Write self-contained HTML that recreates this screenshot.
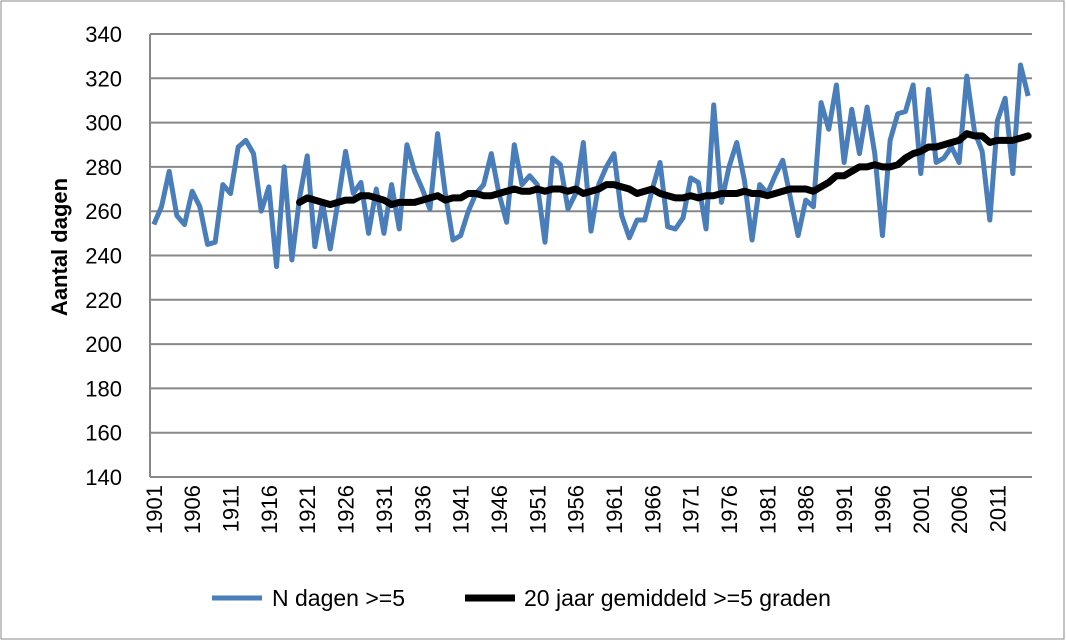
<!DOCTYPE html>
<html><head><meta charset="utf-8"><style>
body{margin:0;background:#fff;}
svg{display:block;font-family:"Liberation Sans",sans-serif;}
</style></head><body>
<svg id="c" width="1066" height="641">
<rect x="1" y="1" width="1063" height="638" fill="#fff" stroke="#888"/>
<g id="grid"></g><g id="ylab"></g><g id="xlab"></g><g id="series"></g>
<text transform="translate(67,247) rotate(-90)" text-anchor="middle" font-size="22" font-weight="bold">Aantal dagen</text>
<g>
<line x1="212" y1="598" x2="262" y2="598" stroke="#4a7ebb" stroke-width="5"/>
<text x="272" y="606" font-size="23">N dagen &gt;=5</text>
<line x1="465" y1="598" x2="515" y2="598" stroke="#000" stroke-width="7"/>
<text x="524" y="606" font-size="23">20 jaar gemiddeld &gt;=5 graden</text>
</g>
</svg>
<script>
const startYear = 1901;
const nDagen = [254,262,278,258,254,269,262,245,246,272,268,289,292,286,260,271,235,280,238,266,285,244,264,243,264,287,268,273,250,270,250,272,252,290,278,270,261,295,268,247,249,260,268,272,286,268,255,290,272,276,272,246,284,281,261,268,291,251,272,280,286,258,248,256,256,270,282,253,252,257,275,273,252,308,264,280,291,274,247,272,268,276,283,266,249,265,262,309,297,317,282,306,286,307,286,249,292,304,305,317,277,315,282,284,289,282,321,296,287,256,301,311,277,326,312];
const avgStart = 1920;
const avg20 = [264,266,265,264,263,264,265,265,267,267,266,265,263,264,264,264,265,266,267,265,266,266,268,268,267,267,268,269,270,269,269,270,269,270,270,269,270,268,269,270,272,272,271,270,268,269,270,268,267,266,266,267,266,267,267,268,268,268,269,268,268,267,268,269,270,270,270,269,271,273,276,276,278,280,280,281,280,280,281,284,286,287,289,289,290,291,292,295,294,294,291,292,292,292,293,294];
const yTicks = [140,160,180,200,220,240,260,280,300,320,340];
const NS="http://www.w3.org/2000/svg";
const L=150,R=1032,T=34,B=477,N=nDagen.length;
const step=(R-L)/N;
const xs=i=>L+step*(i+0.5);
const ys=v=>B-(v-140)/(340-140)*(B-T);
function mk(tag,attrs,parent){const e=document.createElementNS(NS,tag);for(const k in attrs)e.setAttribute(k,attrs[k]);parent.appendChild(e);return e;}
const grid=document.getElementById('grid'),yl=document.getElementById('ylab'),xl=document.getElementById('xlab'),sg=document.getElementById('series');
yTicks.forEach(t=>{
  if(t>140){const g=mk('line',{x1:L,x2:R,y1:ys(t),y2:ys(t),stroke:'#888','stroke-width':2},grid);
  
  }
  const tx=mk('text',{x:122,y:ys(t)+8,'text-anchor':'end','font-size':22},yl);tx.textContent=t;
  
  
});
const ax=mk('line',{x1:L,x2:L,y1:T,y2:B,stroke:'#888','stroke-width':2},grid);


const bx=mk('line',{x1:L,x2:R,y1:B,y2:B,stroke:'#888','stroke-width':2},grid);


for(let i=0;i<N;i+=5){
  const x=xs(i);
  const tx=mk('text',{transform:`translate(${x+8},${B+8}) rotate(-90)`,'text-anchor':'end','font-size':22},xl);
  tx.textContent=startYear+i;
  
  
}
const p1=mk('polyline',{points:nDagen.map((v,i)=>xs(i)+','+ys(v)).join(' '),fill:'none',stroke:'#4a7ebb','stroke-width':5,'stroke-linejoin':'round'},sg);


const off=avgStart-startYear;
const p2=mk('polyline',{points:avg20.map((v,i)=>xs(i+off)+','+ys(v)).join(' '),fill:'none',stroke:'#000','stroke-width':7,'stroke-linejoin':'round','stroke-linecap':'round'},sg);


</script>
</body></html>
